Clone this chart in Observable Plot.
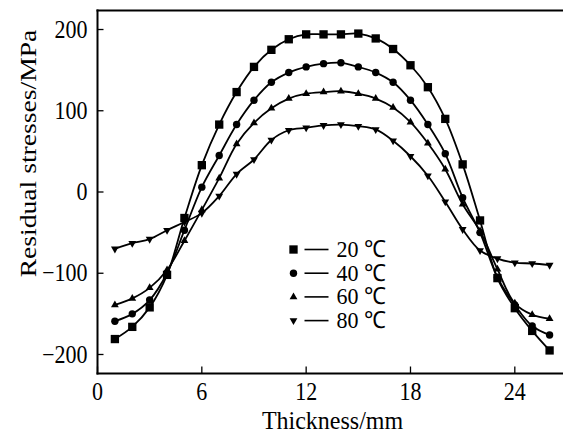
<!DOCTYPE html>
<html><head><meta charset="utf-8">
<script src="https://cdn.jsdelivr.net/npm/d3@7"></script>
<script src="https://cdn.jsdelivr.net/npm/@observablehq/plot@0.6"></script>
<style>body{margin:0;background:#fff} #chart svg{display:block}</style>
</head><body><div id="chart"></div>
<script>
// Data
const thickness = [1,2,3,4,5,6,7,8,9,10,11,12,13,14,15,16,17,18,19,20,21,22,23,24,25,26];
const stress20 = [-181,-166,-142,-102,-32,33,83,123,154,175,188,194,194,194,195,189,176,156,129,90,34,-35,-106,-143,-171,-195];
const stress40 = [-159,-150,-133,-100,-47,6,45,83,113,135,147,154,158,159,154,147,135,113,83,47,-7,-50,-105,-139,-165,-176];
const stress60 = [-139,-131,-118,-96,-60,-22,17,59,85,103,115,121,123,124,121,115,104,86,60,28,-15,-48,-95,-137,-151,-156];
const stress80 = [-70,-63,-58,-47,-37,-26,-5,22,40,64,76,79,82,83,81,77,63,44,20,-12,-46,-72,-82,-87,-88,-90];
const seriesLabels = ["20 ℃","40 ℃","60 ℃","80 ℃"];
const xTicks = [0,6,12,18,24];
const yTicks = [-200,-100,0,100,200];
const xLabel = "Thickness/mm";
const yLabel = "Residual stresses/MPa";

const allSeries = [stress20, stress40, stress60, stress80];
const rows = [];
allSeries.forEach((vals, i) => thickness.forEach((t, j) => rows.push({t, v: vals[j], s: seriesLabels[i]})));

const downTriangle = {draw(ctx, size){ const y = Math.sqrt(size/(3*Math.sqrt(3))); ctx.moveTo(0, 2*y); ctx.lineTo(Math.sqrt(3)*y, -y); ctx.lineTo(-Math.sqrt(3)*y, -y); ctx.closePath(); }};
const hline = {draw(ctx){ ctx.moveTo(-12,0); ctx.lineTo(12,0); }};
const symbols = [d3.symbolSquare, d3.symbolCircle, d3.symbolTriangle, downTriangle];
const radii = [4.7, 3.7, 2.9, 2.9];

const W = 563, H = 435, mL = 97, mR = 0, mT = 10, mB = 62;
const frameW = W - mL - mR, frameH = H - mT - mB;
const font = "'Liberation Serif', 'Times New Roman', serif";

const marks = [
  Plot.frame({anchor: "left", stroke: "black", strokeWidth: 2}),
  Plot.frame({anchor: "top", stroke: "black", strokeWidth: 2}),
  Plot.frame({anchor: "bottom", stroke: "black", strokeWidth: 2}),
  Plot.ruleX(xTicks, {insetTop: frameH - 6.5, stroke: "black", strokeWidth: 1.3}),
  Plot.ruleY(yTicks, {insetRight: frameW - 6.5, stroke: "black", strokeWidth: 1.3}),
  Plot.axisX({ticks: xTicks, tickSize: 0, tickPadding: 10, fontSize: 22, label: null}),
  Plot.axisY({ticks: yTicks, tickSize: 0, tickPadding: 10, fontSize: 22, label: null,
    tickFormat: d => d < 0 ? "\u2212" + Math.abs(d) : String(d)}),
  Plot.line(rows, {x: "t", y: "v", z: "s", curve: "catmull-rom", stroke: "black", strokeWidth: 1.8}),
];
seriesLabels.forEach((lab, i) => {
  marks.push(Plot.dot(rows.filter(d => d.s === lab), {x: "t", y: "v", symbol: symbols[i], r: radii[i], fill: "black", stroke: "none"}));
  const dy = 249 - mT + i * 23.7;
  marks.push(Plot.dot([lab], {frameAnchor: "top-left", dx: 293 - mL, dy, symbol: symbols[i], r: radii[i], fill: "black", stroke: "none"}));
  marks.push(Plot.dot([lab], {frameAnchor: "top-left", dx: 316 - mL, dy, symbol: hline, fill: "none", stroke: "black", strokeWidth: 1.6}));
  marks.push(Plot.text([lab], {text: d => d, frameAnchor: "top-left", dx: 336 - mL, dy, textAnchor: "start", lineAnchor: "middle", fontSize: 22, fill: "black", className: "leg"}));
});
marks.push(Plot.text([xLabel], {text: d => d, frameAnchor: "bottom", dx: 2, dy: 47, textAnchor: "middle", lineAnchor: "middle", fontSize: 24, fill: "black", className: "xlab"}));
marks.push(Plot.text([yLabel], {text: d => d, frameAnchor: "left", dx: -69, dy: -38.5, rotate: -90, textAnchor: "middle", lineAnchor: "middle", fontSize: 24, fill: "black"}));

const chart = Plot.plot({
  width: W, height: H,
  marginLeft: mL, marginRight: mR, marginTop: mT, marginBottom: mB,
  style: {fontFamily: font, fontSize: "22px", background: "white", color: "black", overflow: "visible"},
  x: {domain: [0, 26.8]},
  y: {domain: [-223.4, 223.4]},
  marks
});
document.getElementById("chart").appendChild(chart);

// Mimic the vertically stretched lettering of the source image
chart.querySelectorAll("text").forEach(t => {
  const b = t.getBBox();
  const tr = t.getAttribute("transform") || "";
  if (tr.includes("rotate")) {
    const cx = b.x + b.width / 2;
    t.setAttribute("transform", `${tr} translate(${cx},0) scale(1.15,1) translate(${-cx},0)`);
  } else {
    const cy = b.y + b.height / 2;
    const s = t.closest(".leg") ? 1.07 : t.closest(".xlab") ? 1.05 : 1.13;
    t.setAttribute("transform", `${tr} translate(0,${cy}) scale(1,${s}) translate(0,${-cy})`);
  }
});
</script>
</body></html>
